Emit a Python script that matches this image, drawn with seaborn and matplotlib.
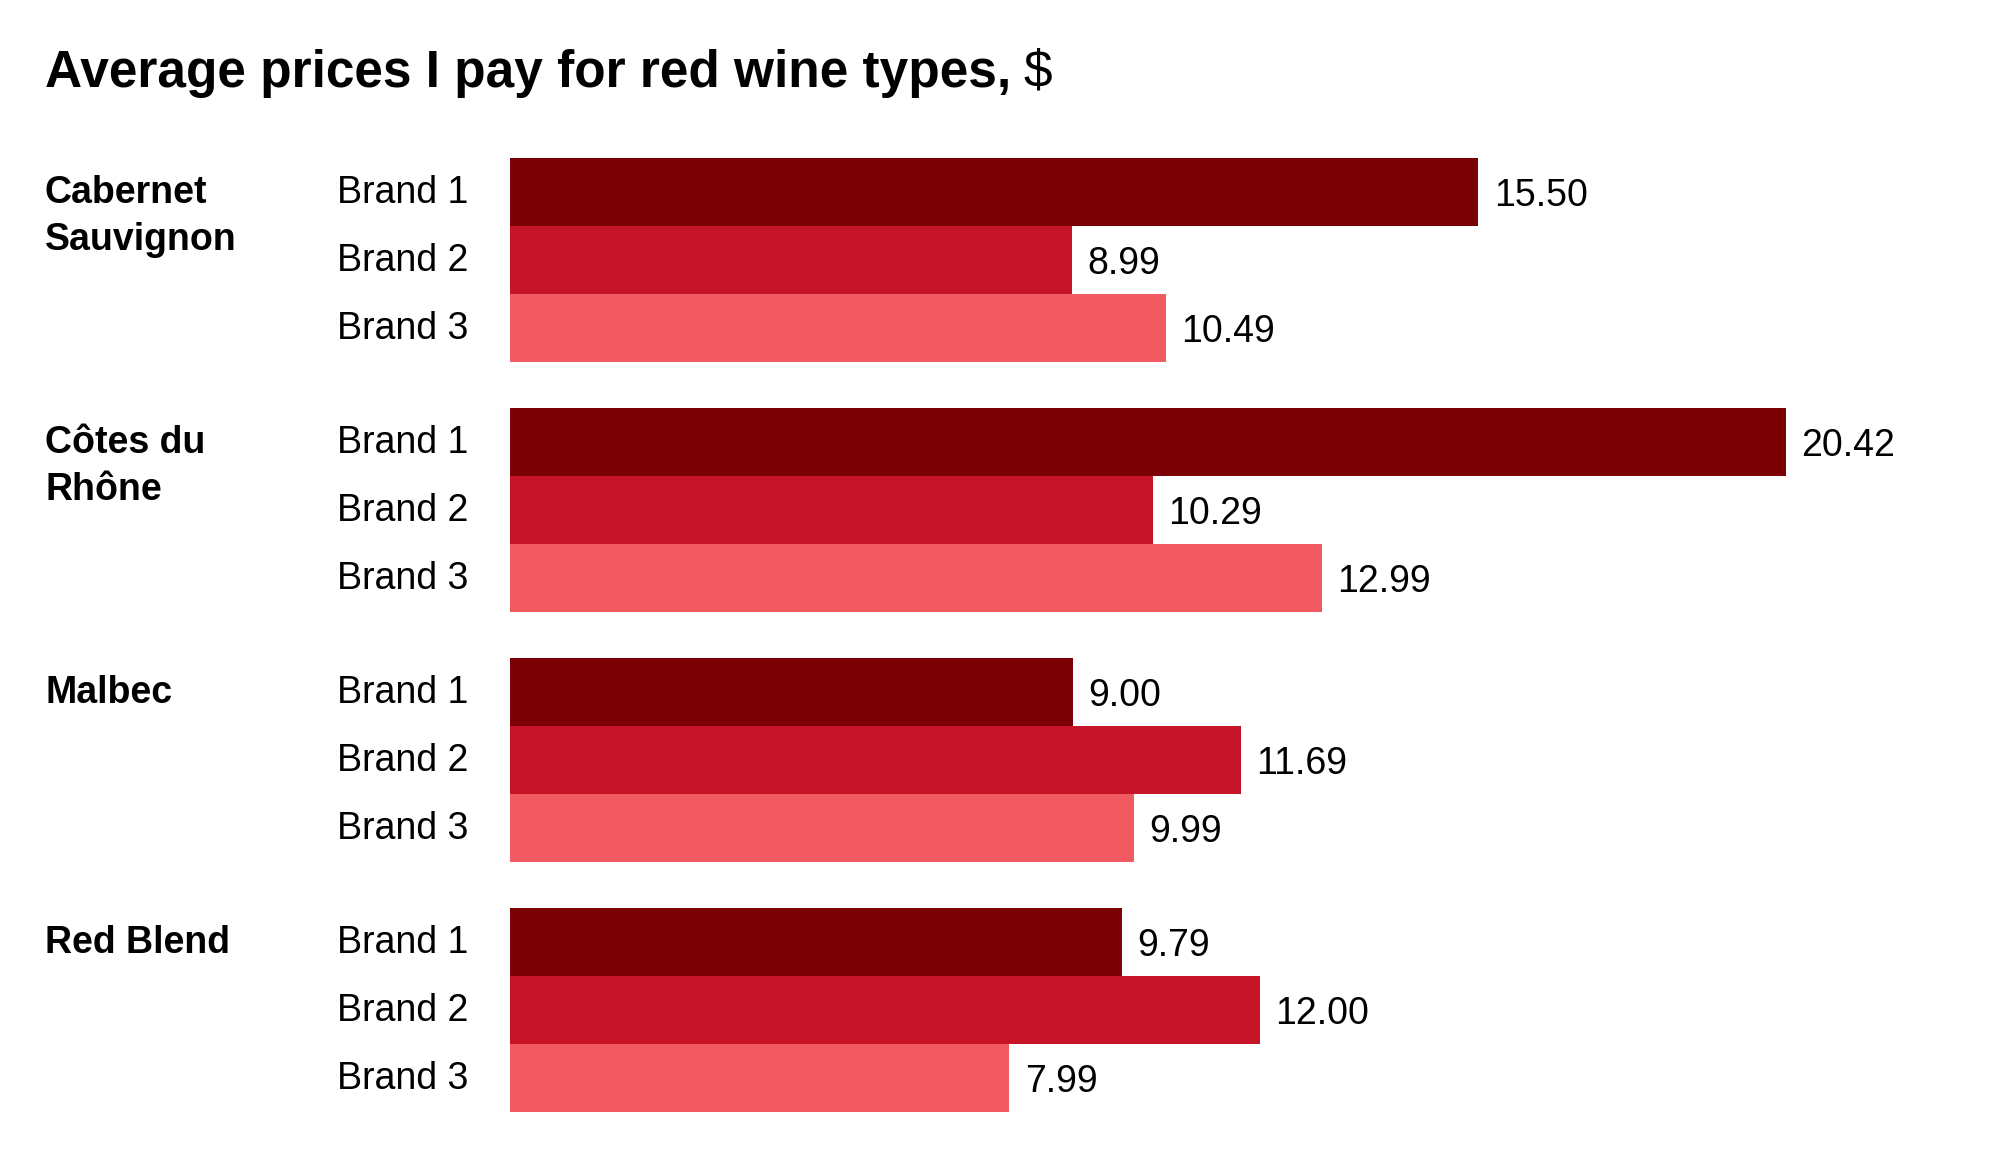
import numpy as np
import pandas as pd
import seaborn as sns
import matplotlib.pyplot as plt
import matplotlib.transforms as mtransforms

# Data
wines = ['Cabernet\nSauvignon', 'Côtes du\nRhône', 'Malbec', 'Red Blend']
brands = ['Brand 1', 'Brand 2', 'Brand 3']
brand1_prices = [15.50, 20.42, 9.00, 9.79]
brand2_prices = [8.99, 10.29, 11.69, 12.00]
brand3_prices = [10.49, 12.99, 9.99, 7.99]
colors = ['#7a0006', '#c51428', '#f05a60']

prices = [v for trio in zip(brand1_prices, brand2_prices, brand3_prices) for v in trio]
data = pd.DataFrame({'wine': np.repeat(wines, len(brands)),
                     'brand': brands * len(wines),
                     'price': prices})

sns.set_theme(style='white')
plt.rcParams['font.family'] = ['Liberation Sans', 'DejaVu Sans']

fig, axes = plt.subplots(4, 1, figsize=(20, 11.69), dpi=100)
fig.subplots_adjust(left=0.2552, right=0.98, top=0.865, bottom=0.049, hspace=0.225)

for ax, wine in zip(axes, wines):
    sub = data[data['wine'] == wine]
    sns.barplot(data=sub, x='price', y='brand', hue='brand', palette=colors,
                saturation=1, width=1.0, linewidth=0, errorbar=None,
                legend=False, ax=ax)
    ax.set_xlim(0, 23.21)
    ax.set_ylim(2.5, -0.5)
    for c in ax.containers:
        labels = ax.bar_label(c, fmt='%.2f', padding=11, fontsize=27, color='black')
        for lab in labels:
            lab.set_va('center_baseline')
    ax.set_xlabel('')
    ax.set_ylabel('')
    ax.set_xticks([])
    ax.set_yticks([])
    sns.despine(ax=ax, left=True, bottom=True)

    trans = mtransforms.blended_transform_factory(fig.transFigure, ax.transData)
    # brand labels
    for i, b in enumerate(brands):
        ax.text(0.1685, i + 0.16, b, transform=trans, ha='left', va='baseline',
                fontsize=27, color='black')
    # wine type label, one line at a time
    for j, line in enumerate(wine.split('\n')):
        ax.text(0.0225, 0.16 + j * 0.70, line, transform=trans, ha='left',
                va='baseline', fontsize=27, fontweight='bold', color='black')

title = fig.text(0.0225, 0.9256, 'Average prices I pay for red wine types,',
                 fontsize=37, fontweight='bold', va='baseline', color='black')
fig.canvas.draw()
bb = title.get_window_extent()
fig.text(bb.x1 / fig.bbox.width + 0.006, 0.9256, '$', fontsize=37,
         va='baseline', color='black')

plt.savefig('out.png', dpi=100)
